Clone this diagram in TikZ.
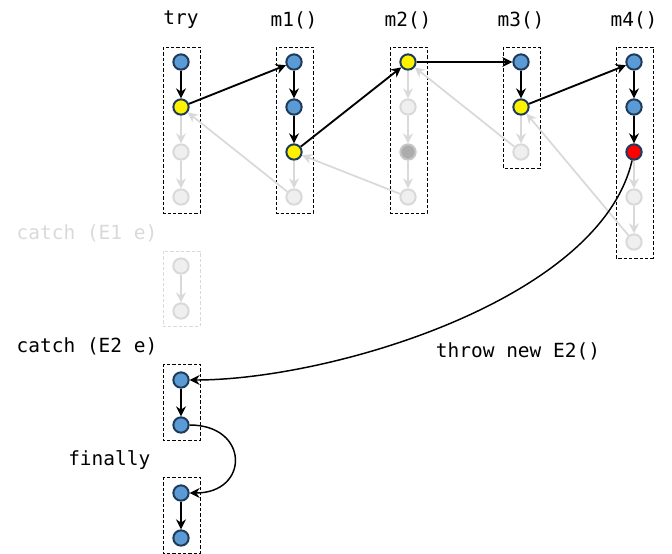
\documentclass[tikz,border=0pt]{standalone}
\usepackage{fontspec}
\setmonofont{DejaVu Sans Mono}
\usetikzlibrary{arrows.meta,positioning}

\definecolor{dotblue}{HTML}{5B9BD5}
\definecolor{dotedge}{HTML}{1F3B5C}
\definecolor{faded}{HTML}{D9D9D9}
\definecolor{fadedfill}{HTML}{EFEFEF}

\tikzset{
  dot/.style={circle, minimum size=11.5pt, inner sep=0pt, line width=1.5pt, draw=dotedge, fill=dotblue},
  hit/.style={dot, fill=yellow},
  boom/.style={dot, fill=red},
  skip/.style={dot, draw=faded, fill=fadedfill},
  dim/.style={dot, draw=gray!45, fill=gray!65},
  flow/.style={-{Stealth[length=7.5pt,width=7.5pt,inset=2.5pt]}, line width=1.4pt},
  back/.style={flow, draw=faded, line width=1.3pt},
  frame/.style={draw, dashed, dash pattern=on 2.5pt off 1.5pt, line width=0.6pt},
  code/.style={font=\ttfamily\fontsize{14.6}{16}\selectfont}
}

\begin{document}
\begin{tikzpicture}[x=0.75pt, y=-0.75pt]
  \useasboundingbox (0,0) rectangle (672,554);

  % call stack columns
  \foreach \s [count=\i] in {dot,hit,skip,skip}
    \node[\s] (try\i) at (181,{62+45*(\i-1)}) {};
  \foreach \s [count=\i] in {dot,dot,hit,skip}
    \node[\s] (mone\i) at (294,{62+45*(\i-1)}) {};
  \foreach \s [count=\i] in {hit,skip,dim,skip}
    \node[\s] (mtwo\i) at (408,{62+45*(\i-1)}) {};
  \foreach \s [count=\i] in {dot,hit,skip}
    \node[\s] (mthree\i) at (521,{62+45*(\i-1)}) {};
  \foreach \s [count=\i] in {dot,dot,boom,skip,skip}
    \node[\s] (mfour\i) at (634,{62+45*(\i-1)}) {};

  \node[code] (trylbl) at (181,20) {try};
  \node[code] (monelbl) at (294,20) {m1()};
  \node[code] (mtwolbl) at (408,20) {m2()};
  \node[code] (mthreelbl) at (521,20) {m3()};
  \node[code] (mfourlbl) at (634,20) {m4()};

  \draw[frame] ([shift={(-18,-15)}]try1.center) rectangle ([shift={(19,16)}]try4.center);
  \draw[frame] ([shift={(-18,-15)}]mone1.center) rectangle ([shift={(19,16)}]mone4.center);
  \draw[frame] ([shift={(-18,-15)}]mtwo1.center) rectangle ([shift={(19,16)}]mtwo4.center);
  \draw[frame] ([shift={(-18,-15)}]mthree1.center) rectangle ([shift={(19,16)}]mthree3.center);
  \draw[frame] ([shift={(-18,-15)}]mfour1.center) rectangle ([shift={(19,16)}]mfour5.center);

  % handlers
  \node[code, anchor=west, text=faded] (eonelbl) at (12,233) {catch (E1 e)};
  \node[skip] (eone1) at (181,266) {};
  \node[skip] (eone2) at (181,311) {};
  \draw[frame, draw=faded] ([shift={(-18,-15)}]eone1.center) rectangle ([shift={(19,15)}]eone2.center);

  \node[code, anchor=west] (etwolbl) at (12,346) {catch (E2 e)};
  \node[dot] (etwo1) at (181,380) {};
  \node[dot] (etwo2) at (181,425) {};
  \draw[frame] ([shift={(-18,-16)}]etwo1.center) rectangle ([shift={(19,15)}]etwo2.center);

  \node[code, anchor=east] (finlbl) at (155,460) {finally};
  \node[dot] (fin1) at (181,493) {};
  \node[dot] (fin2) at (181,538) {};
  \draw[frame] ([shift={(-18,-16)}]fin1.center) rectangle ([shift={(19,15)}]fin2.center);

  % inside the frames
  \draw[flow] (try1) -- (try2);
  \draw[back] (try2) -- (try3);
  \draw[back] (try3) -- (try4);
  \draw[flow] (mone1) -- (mone2);
  \draw[flow] (mone2) -- (mone3);
  \draw[back] (mone3) -- (mone4);
  \draw[back] (mtwo1) -- (mtwo2);
  \draw[back] (mtwo2) -- (mtwo3);
  \draw[back] (mtwo3) -- (mtwo4);
  \draw[flow] (mthree1) -- (mthree2);
  \draw[back] (mthree2) -- (mthree3);
  \draw[flow] (mfour1) -- (mfour2);
  \draw[flow] (mfour2) -- (mfour3);
  \draw[back] (mfour3) -- (mfour4);
  \draw[back] (mfour4) -- (mfour5);
  \draw[back] (eone1) -- (eone2);
  \draw[flow] (etwo1) -- (etwo2);
  \draw[flow] (fin1) -- (fin2);

  % calls and returns
  \draw[flow] (try2) -- (mone1);
  \draw[flow] (mone3) -- (mtwo1);
  \draw[flow] (mtwo1) -- (mthree1);
  \draw[flow] (mthree2) -- (mfour1);
  \draw[back] (mone4) -- (try2);
  \draw[back] (mtwo4) -- (mone3);
  \draw[back] (mthree3) -- (mtwo1);
  \draw[back] (mfour5) -- (mthree2);

  \draw[flow, line width=1.1pt] (mfour3) .. controls (600,300) and (330,380) .. (etwo1);
  \node[code] (throwlbl) at (518,351) {throw new E2()};
  \draw[flow, line width=1.1pt] (etwo2.east) .. controls +(60,0) and +(60,0) .. (fin1.east);
\end{tikzpicture}
\end{document}
